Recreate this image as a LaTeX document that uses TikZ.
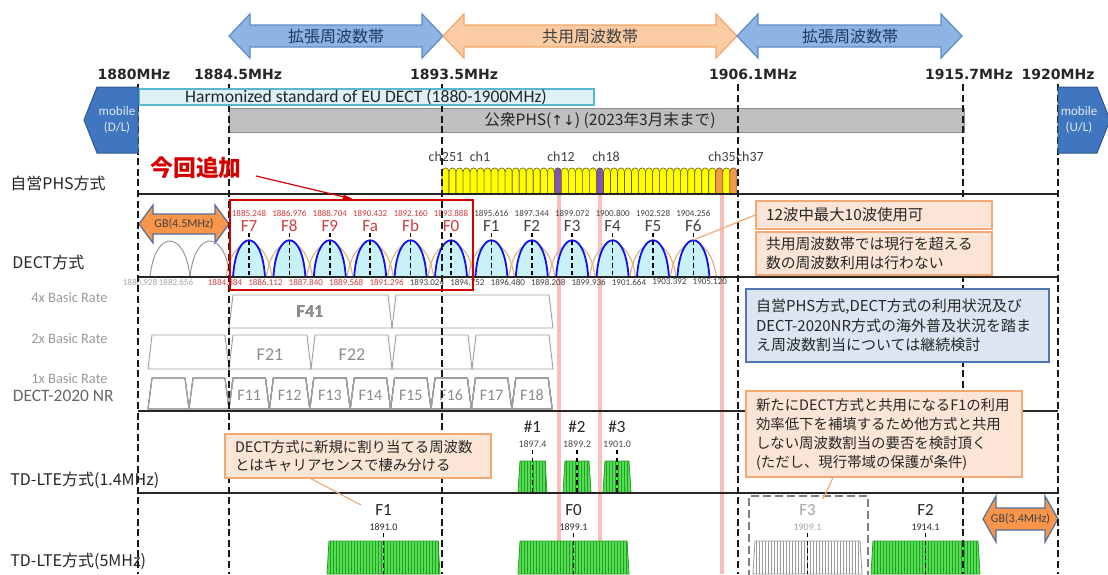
\documentclass[tikz,border=0pt]{standalone}
\usepackage{fontspec}
\setmainfont{Carlito}
\newfontfamily\jp{Noto Sans CJK JP}
\newfontfamily\dv{DejaVu Sans}

\definecolor{extblue}{HTML}{8DB4E2}
\definecolor{extedge}{HTML}{5F8CC8}
\definecolor{exttext}{HTML}{1F3A60}
\definecolor{shareorange}{HTML}{FBCBA4}
\definecolor{shareedge}{HTML}{F4A66A}
\definecolor{mobileblue}{HTML}{3F76BF}
\definecolor{mobileedge}{HTML}{2F5A90}
\definecolor{harmfill}{HTML}{DDF1F7}
\definecolor{harmedge}{HTML}{5BB7CF}
\definecolor{phsgray}{HTML}{BFBFBF}
\definecolor{phsyellow}{HTML}{FFFF00}
\definecolor{phspurple}{HTML}{7E57B0}
\definecolor{phsorange}{HTML}{F39A4A}
\definecolor{phsline}{HTML}{6B5A10}
\definecolor{dectfill}{HTML}{C9F1F8}
\definecolor{dectblue}{HTML}{1010F0}
\definecolor{decttan}{HTML}{DDB585}
\definecolor{dectred}{HTML}{D23C3C}
\definecolor{gborange}{HTML}{F7964A}
\definecolor{gbedge}{HTML}{52709C}
\definecolor{newred}{HTML}{D40000}
\definecolor{ctrlpink}{HTML}{F7BEBE}
\definecolor{notefill}{HTML}{FCE5D6}
\definecolor{noteedge}{HTML}{F2A974}
\definecolor{bluefill}{HTML}{DCE6F3}
\definecolor{blueedge}{HTML}{4F76B2}
\definecolor{ltegreen}{HTML}{55DD55}
\definecolor{ltestripe}{HTML}{22A022}
\definecolor{textgray}{HTML}{404040}

\newcommand{\dblarrow}[7]{\filldraw[#1] (#2,#4) -- ({#2+#7},{#4-#6}) -- ({#2+#7},{#4-#5}) -- ({#3-#7},{#4-#5}) -- ({#3-#7},{#4-#6}) -- (#3,#4) -- ({#3-#7},{#4+#6}) -- ({#3-#7},{#4+#5}) -- ({#2+#7},{#4+#5}) -- ({#2+#7},{#4+#6}) -- cycle;}
\newcommand{\nrtrap}[4]{\draw[nrshape] (#1,#4) -- ({#1+4},#3) -- ({#2-4},#3) -- (#2,#4) -- cycle;}
\newcommand{\lteblock}[6]{\filldraw[fill=#1, draw=#2, line width=0.4pt] (#3,#6) -- ({#3+2},#5) -- ({#4-2},#5) -- (#4,#6) -- cycle;
\pgfmathtruncatemacro\nstripes{(#4-#3-2)/3}
\foreach \j in {1,...,\nstripes} \draw[#2, line width=0.35pt] ({#3+3*\j},#5) -- ({#3+3*\j},#6);}

\begin{document}
\begin{tikzpicture}[x=0.5pt,y=-0.5pt]
\tikzstyle{every node}+=[inner sep=0pt]
\tikzstyle{extarrow}=[fill=extblue, draw=extedge, line width=0.6pt]
\tikzstyle{sharearrow}=[fill=shareorange, draw=shareedge, line width=0.6pt]
\tikzstyle{gbarrow}=[fill=gborange, draw=gbedge, line width=0.6pt]
\tikzstyle{mobile}=[fill=mobileblue, draw=mobileedge, line width=0.5pt]
\tikzstyle{bandtext}=[font=\jp\fontsize{8}{9}\selectfont, text=exttext]
\tikzstyle{mhz}=[font=\dv\bfseries\fontsize{7}{8}\selectfont, text=black!85]
\tikzstyle{rowlabel}=[font=\jp\fontsize{8}{9}\selectfont, anchor=west, text=black!85]
\tikzstyle{ratelabel}=[font=\fontsize{7.2}{8}\selectfont, anchor=east, text=black!40]
\tikzstyle{chlabel}=[font=\fontsize{7}{8}\selectfont, text=textgray]
\tikzstyle{freqtiny}=[font=\fontsize{4.5}{5}\selectfont]
\tikzstyle{flabel}=[font=\fontsize{8.5}{9}\selectfont]
\tikzstyle{nrname}=[font=\fontsize{9}{10}\selectfont, text=black!45]
\tikzstyle{ltename}=[font=\fontsize{8.5}{9}\selectfont, text=black!85]
\tikzstyle{ltefreq}=[font=\fontsize{5}{6}\selectfont, text=black!70]
\tikzstyle{gbtext}=[font=\fontsize{6}{7}\selectfont, text=black!75]
\tikzstyle{mobiletext}=[font=\fontsize{6.5}{8}\selectfont, text=white!85!mobileblue, align=center]
\tikzstyle{nrshape}=[draw=black!38, line width=0.45pt]
\tikzstyle{vdash}=[black!90, line width=0.8pt, dash pattern=on 3.5pt off 1.8pt]
\tikzstyle{cdash}=[black, line width=0.75pt, dash pattern=on 2.2pt off 1.6pt]
\tikzstyle{sepline}=[black!85, line width=0.8pt]
\tikzstyle{callout}=[draw=noteedge, fill=notefill, line width=0.7pt, inner xsep=5pt, inner ysep=2pt, align=left, font=\jp\fontsize{7.4}{9.6}\selectfont, text=black!85]
\tikzstyle{bluecallout}=[callout, draw=blueedge, fill=bluefill, font=\jp\fontsize{7.5}{9.8}\selectfont]
\tikzstyle{pointer}=[noteedge, line width=0.6pt]

\useasboundingbox (0,0) rectangle (1108,574);
\fill [white] (0,0) rectangle (1108,574);

\dblarrow{extarrow}{229}{443}{36}{11}{22}{21}
\node [bandtext] (extA) at (336,36) {拡張周波数帯};
\dblarrow{sharearrow}{443}{737}{36}{11}{22}{21}
\node [bandtext, text=black!75] (shareB) at (590,36) {共用周波数帯};
\dblarrow{extarrow}{737}{962}{36}{11}{22}{21}
\node [bandtext] (extC) at (850,36) {拡張周波数帯};

\node [mhz] (m1880) at (134,74) {1880MHz};
\node [mhz] (m18845) at (238,74) {1884.5MHz};
\node [mhz] (m18935) at (454,74) {1893.5MHz};
\node [mhz] (m19061) at (753,74) {1906.1MHz};
\node [mhz] (m19157) at (969,74) {1915.7MHz};
\node [mhz] (m1920) at (1058,74) {1920MHz};

\filldraw [fill=phsgray, draw=black!45, line width=0.5pt] (229,108) rectangle (964,132);
\node [font=\jp\fontsize{7.8}{8}\selectfont, text=black!85] (pubphs) at (600,120) {公衆PHS({\dv\fontsize{7}{8}\selectfont↑↓}) (2023年3月末まで)};

\foreach \x in {559,600,722}
  \draw [ctrlpink, line width=2pt] (\x,195) -- (\x,574);

\foreach \i in {0,...,41}{
  \def\phscol{phsyellow}
  \ifnum\i=16 \def\phscol{phspurple}\fi
  \ifnum\i=22 \def\phscol{phspurple}\fi
  \ifnum\i=39 \def\phscol{phsorange}\fi
  \ifnum\i=41 \def\phscol{phsorange}\fi
  \filldraw [fill=\phscol, draw=phsline, line width=0.3pt] ({442+7.02*\i},193) -- ({442+7.02*\i},172) .. controls ({442+7.02*\i},166.5) and ({449.02+7.02*\i},166.5) .. ({449.02+7.02*\i},172) -- ({449.02+7.02*\i},193);
}
\node [chlabel] (ch251) at (446,157) {ch251};
\node [chlabel] (ch1) at (480,157) {ch1};
\node [chlabel] (ch12) at (561,157) {ch12};
\node [chlabel] (ch18) at (606,157) {ch18};
\node [chlabel] (ch35) at (722,157) {ch35};
\node [chlabel] (ch37) at (750,157) {ch37};

\dblarrow{gbarrow}{139}{229}{224}{10}{19}{14}
\node [gbtext] (gb45) at (184,224) {GB(4.5MHz)};
\foreach \c in {170,210}
  \draw [black!40, line width=0.5pt] ({\c-20},277) .. controls ({\c-15},229) and ({\c+15},229) .. ({\c+20},277);
\foreach \k in {0,...,11}{
  \pgfmathsetmacro\c{249+40.4*\k}
  \draw [decttan, line width=0.6pt] ({\c-23},277) .. controls ({\c-17},232) and ({\c+17},232) .. ({\c+23},277);
}
\foreach \k in {0,...,11}{
  \pgfmathsetmacro\c{249+40.4*\k}
  \filldraw [fill=dectfill, draw=dectblue, line width=0.9pt] ({\c-16},277) .. controls ({\c-13},228) and ({\c+13},228) .. ({\c+16},277);
  \draw [cdash] (\c,233) -- (\c,277);
}
\foreach \k/\nm/\fq/\col in {0/F7/1885.248/dectred,1/F8/1886.976/dectred,2/F9/1888.704/dectred,3/Fa/1890.432/dectred,4/Fb/1892.160/dectred,5/F0/1893.888/dectred,6/F1/1895.616/textgray,7/F2/1897.344/textgray,8/F3/1899.072/textgray,9/F4/1900.800/textgray,10/F5/1902.528/textgray,11/F6/1904.256/textgray}{
  \pgfmathsetmacro\c{249+40.4*\k}
  \node [flabel, text=\col] (dect\nm) at (\c,226) {\nm};
  \node [freqtiny, text=\col] (top\nm) at (\c,213) {\fq};
}
\foreach \k/\fq/\col in {0/1884.384/dectred,1/1886.112/dectred,2/1887.840/dectred,3/1889.568/dectred,4/1891.296/dectred,5/1893.024/textgray,6/1894.752/textgray,7/1896.480/textgray,8/1898.208/textgray,9/1899.936/textgray,10/1901.664/textgray,11/1903.392/textgray,12/1905.120/textgray}{
  \pgfmathsetmacro\b{225+40.4*\k}
  \node [freqtiny, text=\col] (bot\k) at (\b,282) {\fq};
}
\node [freqtiny, text=black!35] (botga) at (140,282) {1880.928};
\node [freqtiny, text=black!35] (botgb) at (176,282) {1882.656};

\nrtrap{229}{392}{295}{328}
\nrtrap{392}{553}{295}{328}
\foreach \a/\b in {148/229,229/311,311/392,392/472,472/553}
  \nrtrap{\a}{\b}{335}{369}
\foreach \a/\b in {148/189,189/229}
  \nrtrap{\a}{\b}{378}{409}
\foreach \j in {0,...,7}{
  \pgfmathsetmacro\a{229+40.4*\j}
  \pgfmathsetmacro\b{\a+40.4}
  \nrtrap{\a}{\b}{378}{409}
}
\node [nrname] (nrF41) at (310,312) {F41};
\node [nrname] (nrF21) at (270,355) {F21};
\node [nrname] (nrF22) at (352,355) {F22};
\foreach \j in {1,...,8}{
  \pgfmathsetmacro\c{208.8+40.4*\j}
  \node [nrname, font=\fontsize{8}{9}\selectfont] (nrF1\j) at (\c,395) {F1\j};
}
\node [ratelabel] (rate4) at (108,298) {4x Basic Rate};
\node [ratelabel] (rate2) at (108,339) {2x Basic Rate};
\node [ratelabel] (rate1) at (108,379) {1x Basic Rate};
\node [ratelabel, font=\fontsize{8.7}{9}\selectfont, text=black!60] (nrlabel) at (114,396) {DECT-2020 NR};

\lteblock{ltegreen}{ltestripe}{518}{547}{461}{493}
\lteblock{ltegreen}{ltestripe}{563}{591}{461}{493}
\lteblock{ltegreen}{ltestripe}{603}{631}{461}{493}
\foreach \n/\c/\fq in {1/532.5/1897.4,2/577/1899.2,3/617/1901.0}{
  \node [ltename] (lte\n) at (\c,427) {\#\n};
  \node [ltefreq] (lte\n f) at (\c,444) {\fq};
  \draw [cdash] (\c,450) -- (\c,493);
}

\lteblock{ltegreen}{ltestripe}{327}{440}{541}{574}
\lteblock{ltegreen}{ltestripe}{518}{629}{541}{574}
\lteblock{white}{black!40}{753}{862}{541}{574}
\lteblock{ltegreen}{ltestripe}{871}{980}{541}{574}
\draw [black!50, line width=1.3pt, dash pattern=on 4pt off 2pt] (749,590) -- (749,496) -- (868,496) -- (868,590);
\foreach \nm/\c/\fq/\col in {F1/383.5/1891.0/black!85,F0/573.5/1899.1/black!85,F3/807.5/1909.1/black!35,F2/925.5/1914.1/black!85}{
  \node [ltename, text=\col] (wide\nm) at (\c,510) {\nm};
  \node [ltefreq, text=\col] (wide\nm f) at (\c,527) {\fq};
  \draw [cdash] (\c,533) -- (\c,574);
}
\dblarrow{gbarrow}{983}{1058}{519}{11}{23}{13}
\node [gbtext] (gb34) at (1020.5,519) {GB(3.4MHz)};

\foreach \y in {194,277,411,493}
  \draw [sepline] (138,\y) -- (1058,\y);

\foreach \x in {138,229,442,738,963,1058}
  \draw [vdash] (\x,84) -- (\x,574);

\filldraw [fill=harmfill, draw=harmedge, line width=0.6pt] (139,89) rectangle (594,105);
\node [font=\fontsize{8.8}{9}\selectfont, text=black!85] (harm) at (366,97) {Harmonized standard of EU DECT (1880-1900MHz)};

\filldraw [mobile] (138,87) -- (97,87) -- (84,120) -- (97,153) -- (138,153) -- cycle;
\node [mobiletext] (mobDL) at (117,120) {mobile\\(D/L)};
\filldraw [mobile] (1058,87) -- (1097,87) -- (1110,120) -- (1097,153) -- (1058,153) -- cycle;
\node [mobiletext] (mobUL) at (1079,120) {mobile\\(U/L)};

\node [rowlabel] (phsrow) at (10,183) {自営PHS方式};
\node [rowlabel] (dectrow) at (12,262) {DECT方式};
\node [rowlabel] (lte14row) at (10,480) {TD-LTE方式(1.4MHz)};
\node [rowlabel] (lte5row) at (10,561) {TD-LTE方式(5MHz)};

\node [draw=newred, line width=1.3pt, minimum width=121.5pt, minimum height=45pt] (newbox) at (351.5,245) {};
\node [font=\jp\bfseries\fontsize{11.4}{12}\selectfont, text=newred] (kaiadd) at (196,168) {今回追加};
\coordinate (kaistart) at (256,176);
\draw [newred, line width=0.6pt] (kaistart) -- (newbox.north);
\fill [newred] (newbox.north) -- (341.9,201.2) -- (343.7,194.4) -- cycle;

\node [callout, minimum width=118pt, minimum height=14pt, text width=108pt, font=\jp\fontsize{7.7}{9.6}\selectfont] (note12) at (874,215) {12波中最大10波使用可};
\node [callout, minimum width=118pt, minimum height=21.5pt, text width=108pt] (noteshare) at (874,253.5) {共用周波数帯では現行を超える\\数の周波数利用は行わない};
\coordinate (f6top) at (693.4,240);
\draw [pointer] (f6top) -- (note12.west);

\node [bluecallout, minimum width=151.5pt, minimum height=36.5pt, text width=141.5pt] (bluenote) at (897.5,325.5) {自営PHS方式,DECT方式の利用状況及び\\DECT-2020NR方式の海外普及状況を踏ま\\え周波数割当については継続検討};

\node [callout, minimum width=133pt, minimum height=22pt, text width=123pt, font=\jp\fontsize{7.2}{8.6}\selectfont] (tdnote) at (358,456) {DECT方式に新規に割り当てる周波数\\とはキャリアセンスで棲み分ける};
\coordinate (widetip) at (361,505);
\draw [pointer] ([xshift=-23.5pt]tdnote.south) -- (widetip);

\node [callout, minimum width=138pt, minimum height=43pt, text width=128pt, font=\jp\fontsize{7.2}{9.5}\selectfont] (noteF1) at (884,434) {新たにDECT方式と共用になるF1の利用\\効率低下を補填するため他方式と共用\\しない周波数割当の要否を検討頂く\\(ただし、現行帯域の保護が条件)};
\coordinate (f3tip) at (823,499);
\draw [pointer] ([xshift=-25.5pt]noteF1.south) -- (f3tip);
\end{tikzpicture}
\end{document}
